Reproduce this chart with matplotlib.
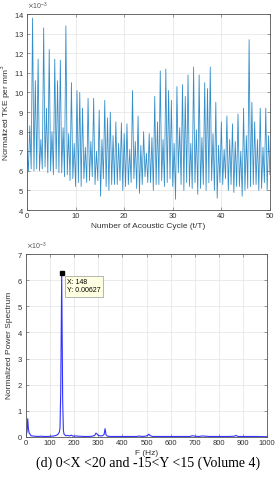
import matplotlib as mpl
mpl.use('Agg')

import numpy as np
import matplotlib.pyplot as plt

plt.rcParams['font.family'] = ['Liberation Sans', 'DejaVu Sans']

# TKE signal (x 1e-3), sampled evenly over 0..50 acoustic cycles
# first 4 samples, then per cycle: main peak, trough, secondary peak, trough
tke_start = [7.0, 6.0, 8.3, 6.1]
tke_cycles = [
    [13.8, 6.0, 10.6, 6.1],
    [11.7, 6.0, 7.6, 6.1],
    [13.3, 6.2, 9.2, 5.9],
    [12.2, 6.0, 8.0, 5.8],
    [11.7, 6.1, 10.6, 5.9],
    [11.65, 5.9, 8.2, 5.7],
    [13.4, 5.8, 7.9, 5.5],
    [10.5, 5.6, 7.4, 5.2],
    [10.1, 5.4, 10.0, 5.2],
    [9.2, 5.6, 7.2, 5.4],
    [9.7, 5.5, 7.5, 5.7],
    [9.7, 5.3, 7.0, 5.5],
    [9.1, 4.7, 7.6, 5.6],
    [9.6, 5.2, 8.7, 5.0],
    [9.0, 5.3, 7.8, 5.3],
    [8.5, 5.3, 7.4, 5.5],
    [8.45, 5.0, 7.9, 5.2],
    [8.4, 5.3, 7.1, 5.4],
    [10.1, 5.6, 7.5, 5.1],
    [8.8, 4.85, 7.3, 5.3],
    [8.0, 5.7, 6.9, 5.4],
    [7.9, 5.4, 7.7, 5.0],
    [9.8, 5.3, 8.5, 5.3],
    [11.1, 5.5, 7.6, 5.2],
    [11.2, 5.4, 10.1, 5.6],
    [9.6, 5.2, 7.4, 4.55],
    [10.3, 5.9, 8.2, 5.3],
    [10.4, 5.0, 9.8, 5.4],
    [10.9, 5.2, 7.4, 5.1],
    [11.3, 5.4, 8.1, 4.8],
    [10.9, 5.1, 7.7, 5.3],
    [10.5, 5.0, 10.2, 5.4],
    [11.3, 5.5, 7.9, 5.0],
    [9.5, 4.6, 7.3, 5.4],
    [8.5, 5.3, 7.1, 5.6],
    [8.8, 5.0, 7.6, 5.3],
    [8.4, 4.9, 7.5, 5.2],
    [8.9, 5.2, 7.0, 4.7],
    [9.2, 5.0, 7.8, 5.1],
    [12.7, 5.2, 9.5, 5.3],
    [8.5, 5.3, 7.6, 5.0],
    [9.2, 5.1, 7.2, 5.4],
    [9.2, 5.0, 7.8, 5.8],
]

# power spectrum (x 1e-3)
freq = [0, 4, 7, 10, 13, 16, 20, 25, 35, 50, 60, 75, 90, 105, 115, 125, 132,
        138, 141, 144, 148, 152, 155, 158, 165, 172, 180, 188, 195, 205, 220,
        240, 260, 275, 285, 290, 294, 300, 310, 318, 324, 328, 332, 338, 350,
        380, 420, 460, 470, 480, 495, 505, 510, 515, 525, 560, 600, 640, 680,
        690, 700, 720, 730, 760, 800, 840, 865, 870, 880, 900, 950, 1000]
psd = [0.05, 0.2, 0.7, 0.3, 0.15, 0.12, 0.05, 0.04, 0.03, 0.02, 0.03, 0.02,
       0.02, 0.03, 0.04, 0.06, 0.1, 0.18, 0.35, 1.8, 6.27, 1.4, 0.25, 0.1,
       0.05, 0.06, 0.04, 0.07, 0.03, 0.04, 0.03, 0.02, 0.02, 0.03, 0.06,
       0.15, 0.12, 0.06, 0.04, 0.05, 0.1, 0.32, 0.08, 0.03, 0.02, 0.02,
       0.02, 0.02, 0.04, 0.02, 0.03, 0.06, 0.11, 0.05, 0.02, 0.02, 0.02,
       0.02, 0.02, 0.05, 0.03, 0.02, 0.04, 0.02, 0.02, 0.02, 0.03, 0.06,
       0.02, 0.02, 0.02, 0.01]

peak_x = 148
peak_y = 0.00627

tke = np.array(tke_start + sum(tke_cycles, [])) * 1e-3
t = np.linspace(0, 50, len(tke))
f = np.array(freq)
p = np.array(psd) * 1e-3

fig = plt.figure(figsize=(2.77, 4.8), dpi=100)


def style(ax):
    ax.grid(True, color='#e3e3e3', linewidth=0.5)
    ax.set_axisbelow(True)
    for s in ax.spines.values():
        s.set_color('#555555')
        s.set_linewidth(0.6)
    ax.tick_params(direction='in', top=True, right=True, labelsize=5.5,
                   length=2, width=0.4, colors='#555555', labelcolor='#333333',
                   pad=2)
    ax.ticklabel_format(axis='y', style='sci', scilimits=(-3, -3), useMathText=True)
    ax.yaxis.get_offset_text().set_fontsize(5)
    ax.yaxis.get_offset_text().set_color('#555555')


ax1 = fig.add_axes([0.0975, 0.5625, 0.877, 0.408])
ax1.plot(t, tke, color=(0, 0.447, 0.741), linewidth=0.6, alpha=0.8)
ax1.set_xlim(0, 50)
ax1.set_ylim(0.004, 0.014)
ax1.set_xticks(np.arange(0, 51, 10))
ax1.set_yticks(np.arange(4, 15) * 1e-3)
style(ax1)
ax1.set_xlabel('Number of Acoustic Cycle (t/T)', fontsize=6, color='#333333', labelpad=2)
ax1.set_ylabel('Normalized TKE per mm$^3$', fontsize=6, color='#333333', labelpad=0.5)

ax2 = fig.add_axes([0.094, 0.0896, 0.87, 0.381])
ax2.plot(f, p, color=(0.2, 0.2, 1.0), linewidth=0.8)
ax2.set_xlim(0, 1000)
ax2.set_ylim(0, 0.007)
ax2.set_xticks(np.arange(0, 1001, 100))
ax2.set_yticks(np.arange(0, 8) * 1e-3)
style(ax2)
ax2.set_xlabel('F (Hz)', fontsize=6, color='#333333', labelpad=2)
ax2.set_ylabel('Normalized Power Spectrum', fontsize=6, color='#333333', labelpad=3)

ax2.plot([peak_x], [peak_y], marker='s', color='black', markersize=3.5)
ax2.annotate('X: %d\nY: %.5f' % (peak_x, peak_y), xy=(peak_x, peak_y),
             xytext=(4, -4), textcoords='offset points', fontsize=5,
             va='top', ha='left', linespacing=1.3,
             bbox=dict(boxstyle='square,pad=0.35', fc='#ffffe1', ec='#999999', lw=0.5))

fig.text(0.535, 0.035, '(d) 0<X <20 and -15<Y <15 (Volume 4)',
         family=['Liberation Serif', 'DejaVu Serif'], fontsize=10, ha='center', va='center')

fig.savefig('out.png', dpi=100)
